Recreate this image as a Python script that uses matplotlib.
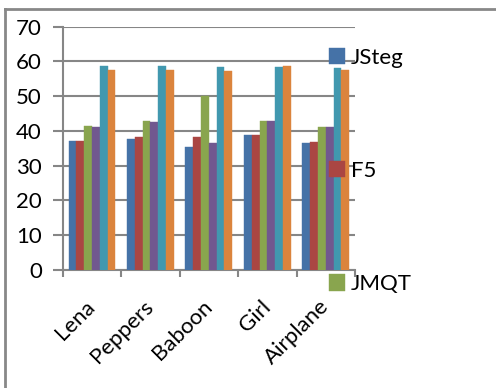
import numpy as np
import matplotlib
matplotlib.use("Agg")
import matplotlib.pyplot as plt
import matplotlib.transforms as mtransforms
from matplotlib.lines import Line2D

# data
categories = ["Lena", "Peppers", "Baboon", "Girl", "Airplane"]
series_names = ["JSteg", "F5", "JMQT", "S4", "S5", "S6"]
jsteg = [37.2, 37.7, 35.5, 38.7, 36.5]
f5 = [37.2, 38.4, 38.4, 38.7, 36.9]
jmqt = [41.3, 42.9, 50.2, 42.9, 41.0]
s4 = [41.0, 42.5, 36.5, 42.9, 41.0]
s5 = [58.7, 58.7, 58.3, 58.3, 58.2]
s6 = [57.6, 57.6, 57.2, 58.7, 57.6]
series = [jsteg, f5, jmqt, s4, s5, s6]
colors = ["#4572A7", "#AA4643", "#89A54E", "#71588F", "#4198AF", "#DB843D"]
yticks = [0, 10, 20, 30, 40, 50, 60, 70]

plt.rcParams['font.family'] = ['Lato', 'DejaVu Sans']
fs = 16

fig = plt.figure(figsize=(4.96, 3.88), dpi=100)
ax = fig.add_axes([0.1264, 0.3041, 0.5893, 0.6271])

x = np.arange(len(categories))
bw = 0.8 / len(series)
bars = []
for i, (vals, c) in enumerate(zip(series, colors)):
    b = ax.bar(x - 0.4 + bw * (i + 0.5), vals, width=bw, color=c,
               edgecolor=c, linewidth=0.3, zorder=3, label=series_names[i])
    bars.append(b)

grid_c = "#868686"
ax.set_xlim(-0.5, len(categories) - 0.5)
ax.set_ylim(0, 70)
ax.set_yticks(yticks)
ax.yaxis.grid(True, color=grid_c, linewidth=1.5, zorder=0)
ax.tick_params(axis='y', length=7, width=1.5, color=grid_c, pad=8, labelsize=fs)

ax.set_xticks(x)
ax.set_xticklabels(categories, rotation=45, ha='right', rotation_mode='anchor')
ax.set_xticks(np.arange(len(categories) + 1) - 0.5, minor=True)
ax.tick_params(axis='x', which='major', length=0, pad=19, labelsize=fs)
ax.tick_params(axis='x', which='minor', length=5, width=1.5, color=grid_c)
shift = mtransforms.ScaledTranslation(-7 / 100, 0, fig.dpi_scale_trans)
for lab in ax.get_xticklabels():
    lab.set_transform(lab.get_transform() + shift)

for s in ['top', 'right']:
    ax.spines[s].set_visible(False)
for s in ['left', 'bottom']:
    ax.spines[s].set_color(grid_c)
    ax.spines[s].set_linewidth(1.5)

# legend is cut off in the original, only three entries show
leg = fig.legend(handles=bars[:3], labels=series_names[:3], loc='upper left',
                 bbox_to_anchor=(0.645, 0.9), frameon=False,
                 handlelength=0.75, handleheight=0.75, handletextpad=0.25,
                 labelspacing=4.2, fontsize=fs, borderaxespad=0)

# outer frame
fig.add_artist(Line2D([0.011, 1.0], [0.978, 0.978], transform=fig.transFigure,
                      color="#888888", linewidth=2))
fig.add_artist(Line2D([0.011, 0.011], [0.0, 0.978], transform=fig.transFigure,
                      color="#888888", linewidth=2))

fig.savefig("out.png", dpi=100)
